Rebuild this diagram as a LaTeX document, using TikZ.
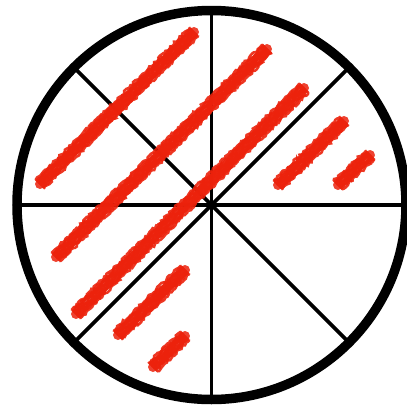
\documentclass[tikz,border=0pt]{standalone}
\usetikzlibrary{decorations.pathmorphing}
\definecolor{crayon}{RGB}{236,34,12}
\tikzset{
  rim/.style={line width=9.5pt, draw=black},
  spoke/.style={line width=3.8pt, draw=black},
  crayonline/.style={draw=crayon, line cap=round, line width=2.6pt, opacity=0.9,
    decorate, decoration={random steps, segment length=2.2pt, amplitude=1.2pt}},
  crayoncore/.style={draw=crayon, line cap=round, line width=10pt, opacity=0.85},
}
\newcommand{\crayonstroke}[2]{%
  \draw[crayoncore] #1 -- #2;
  \foreach \o in {-6,-4.5,-3,-1.5,0,1.5,3,4.5,6} {
    \draw[crayonline, shift={(\o*0.7071,\o*0.7071)}] #1 -- #2;
  }%
}
\begin{document}
\begin{tikzpicture}[x=1pt,y=-1pt]
\pgfmathsetseed{4242}
\useasboundingbox (0,0) rectangle (407,408);
\clip (0,0) rectangle (407,408);
\fill[white] (0,0) rectangle (407,408);
\coordinate (c) at (211.5,205);
% spokes
\foreach \a in {0,45,...,315} {
  \draw[spoke] (c) -- ++({194.5*cos(\a)},{194.5*sin(\a)});
}
% rim
\draw[rim] (c) circle[radius=194.5];
% crayon strokes
\crayonstroke{(40,184)}{(194,32)}
\crayonstroke{(56,257)}{(267,49)}
\crayonstroke{(76,314)}{(304,88)}
\crayonstroke{(278,185)}{(344,121)}
\crayonstroke{(338,185)}{(370,155)}
\crayonstroke{(118,335)}{(185,270)}
\crayonstroke{(153,367)}{(185,336)}
\end{tikzpicture}
\end{document}
